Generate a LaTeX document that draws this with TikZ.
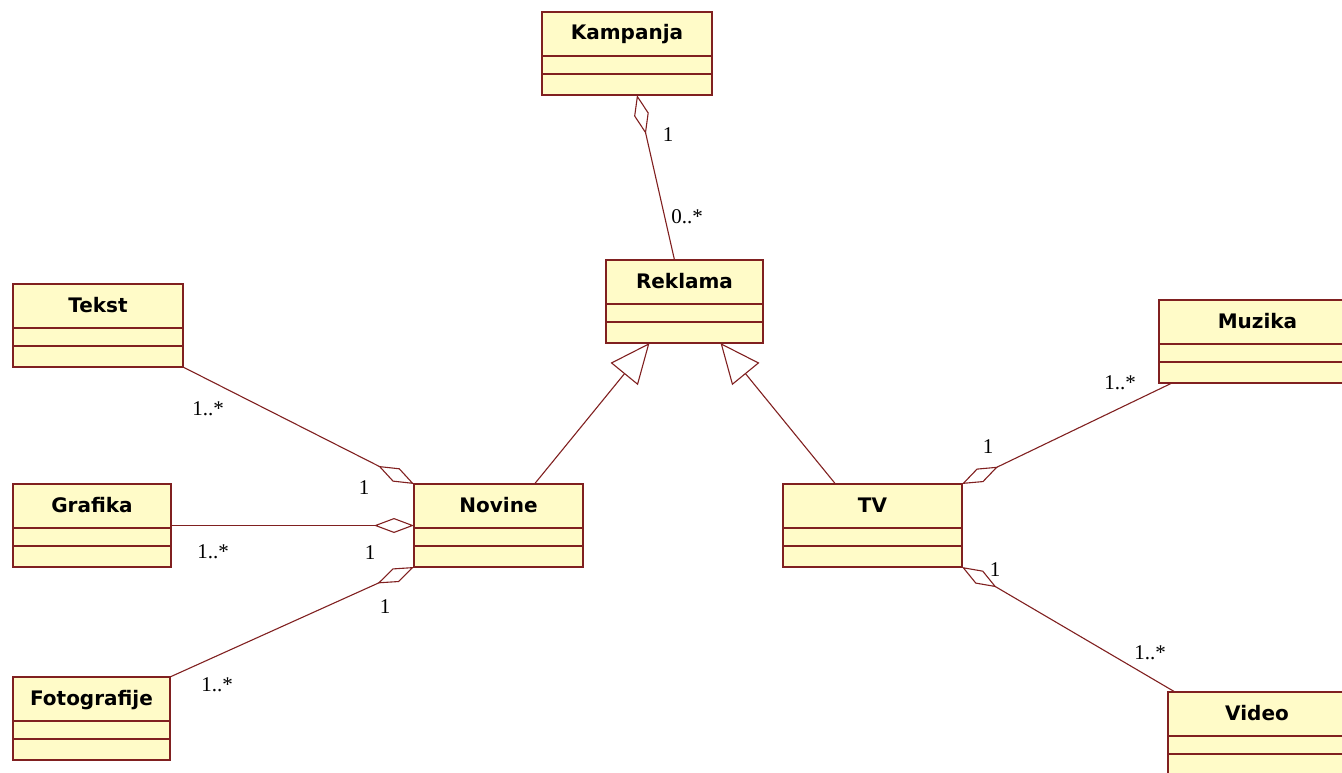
\documentclass[tikz,border=0pt]{standalone}
\usepackage{fontspec}
\setmainfont{Liberation Serif}
\newfontfamily\classfont{DejaVu Sans}
\usetikzlibrary{arrows.meta}
\definecolor{umlred}{RGB}{128,32,32}
\definecolor{umlfill}{RGB}{255,251,200}
\begin{document}
\begin{tikzpicture}[x=1pt, y=-1pt]
    \tikzset{classbox/.style={draw=umlred, fill=umlfill, line width=1.5pt, anchor=north west,
        outer sep=0pt, inner ysep=0pt, text height=28pt, text depth=55pt,
        font={\classfont\bfseries\fontsize{20}{22}\selectfont}}}
    \tikzset{aggr/.style={draw=umlred, line width=1.1pt, arrows={Diamond[open,length=40pt,width=15pt]-}}}
    \tikzset{gen/.style={draw=umlred, line width=1.1pt, arrows={-Triangle[open,length=40pt,width=35pt]}}}
    \tikzset{mult/.style={font={\fontsize{21}{22}\selectfont}}}

    \useasboundingbox (0,0) rectangle (1342,773);
    \clip (0,0) rectangle (1342,773);

    \node [classbox, minimum width=170pt] (kampanja) at (542,12) {Kampanja};
    \node [classbox, minimum width=157pt] (reklama) at (606,260) {Reklama};
    \node [classbox, minimum width=170pt] (tekst) at (13,284) {Tekst};
    \node [classbox, minimum width=158pt] (grafika) at (13,484) {Grafika};
    \node [classbox, minimum width=157pt] (fotografije) at (13,677) {Fotografije};
    \node [classbox, minimum width=169pt] (novine) at (414,484) {Novine};
    \node [classbox, minimum width=179pt] (tv) at (783,484) {TV};
    \node [classbox, minimum width=197pt] (muzika) at (1159,300) {Muzika};
    \node [classbox, minimum width=178pt] (video) at (1168,692) {Video};

    % compartments
    \foreach \c in {kampanja,reklama,tekst,grafika,fotografije,novine,tv,muzika,video} {
      \draw [umlred, line width=1.5pt] ([yshift=-44pt]\c.north west) -- ([yshift=-44pt]\c.north east);
      \draw [umlred, line width=1.5pt] ([yshift=-62pt]\c.north west) -- ([yshift=-62pt]\c.north east);
    }

    \draw [aggr] ([xshift=10pt]kampanja.south) -- ([xshift=-10pt]reklama.north);
    \draw [gen] ([xshift=36pt]novine.north) -- ([xshift=-35pt]reklama.south);
    \draw [gen] ([xshift=-37pt]tv.north) -- ([xshift=36pt]reklama.south);

    \draw [aggr] (novine.north west) -- (tekst.south east);
    \draw [aggr] (novine.west) -- (grafika.east);
    \draw [aggr] (novine.south west) -- (fotografije.north east);
    \draw [aggr] (tv.north east) -- ([xshift=13pt]muzika.south west);
    \draw [aggr] (tv.south east) -- ([xshift=7pt]video.north west);

    \node [mult] (kr1) at (668,135) {1};
    \node [mult] (kr2) at (687,217) {0..*};
    \node [mult] (tn1) at (208,409) {1..*};
    \node [mult] (tn2) at (364,488) {1};
    \node [mult] (gn1) at (213,552) {1..*};
    \node [mult] (gn2) at (370,553) {1};
    \node [mult] (fn1) at (217,685) {1..*};
    \node [mult] (fn2) at (385,607) {1};
    \node [mult] (mt1) at (1120,383) {1..*};
    \node [mult] (mt2) at (988,447) {1};
    \node [mult] (vt1) at (995,570) {1};
    \node [mult] (vt2) at (1150,653) {1..*};
\end{tikzpicture}
\end{document}
